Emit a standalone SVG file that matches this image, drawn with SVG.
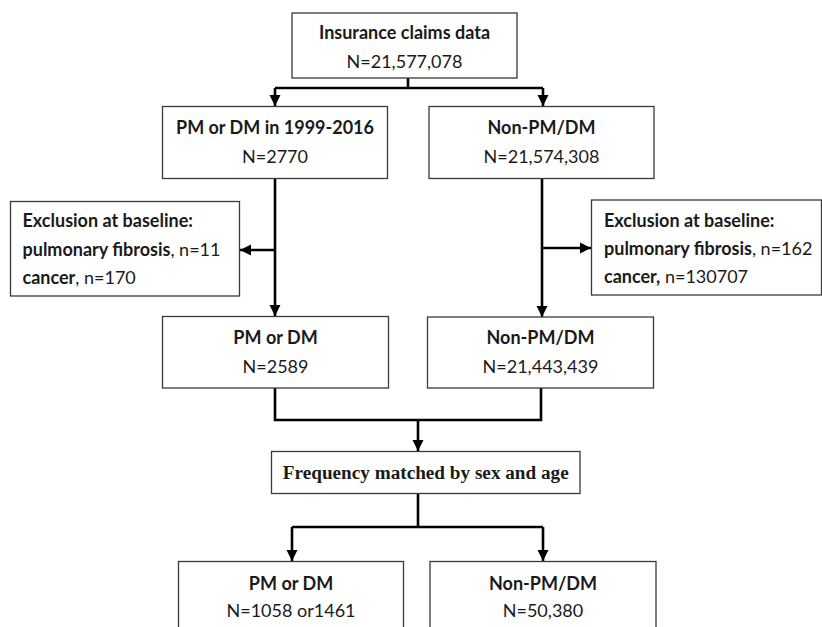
<svg xmlns="http://www.w3.org/2000/svg" width="822" height="627" viewBox="0 0 822 627">
<style>
.box{fill:#fff;stroke:#3a3a3a;stroke-width:1.3}
.t{font-family:Lato,"Liberation Sans",sans-serif;font-size:18px;fill:#1a1a1a;text-anchor:middle}
.b{font-weight:bold}
.l{text-anchor:start}
.serif{font-family:"Liberation Serif","Times New Roman",serif;font-weight:bold;font-size:19.2px}
.c{fill:none;stroke:#000;stroke-width:2.6}
</style>
<defs>
<marker id="ah" viewBox="0 0 10 10" refX="10" refY="5" markerWidth="4.4" markerHeight="4.4" markerUnits="strokeWidth" orient="auto">
<path d="M0,0 L10,5 L0,10 z" fill="#000"/>
</marker>
</defs>
<rect width="822" height="627" fill="#fff"/>
<g id="connectors">
<polyline class="c" points="408,78 408,88"/>
<polyline class="c" points="275,88 543,88"/>
<polyline class="c" points="275,88 275,106" marker-end="url(#ah)"/>
<polyline class="c" points="543,88 543,106" marker-end="url(#ah)"/>
<polyline class="c" points="275,178 275,316" marker-end="url(#ah)"/>
<polyline class="c" points="275,250 240,250" marker-end="url(#ah)"/>
<polyline class="c" points="542,178 542,317" marker-end="url(#ah)"/>
<polyline class="c" points="542,248 591,248" marker-end="url(#ah)"/>
<polyline class="c" points="275,388 275,420 541,420 541,388"/>
<polyline class="c" points="418,420 418,451" marker-end="url(#ah)"/>
<polyline class="c" points="418,493 418,527"/>
<polyline class="c" points="292,527 543,527"/>
<polyline class="c" points="292,527 292,561" marker-end="url(#ah)"/>
<polyline class="c" points="543,527 543,561" marker-end="url(#ah)"/>
</g>
<g id="n-claims">
<rect class="box" x="292" y="13" width="225" height="65"/>
<text class="t b" x="404.5" y="39">Insurance claims data</text>
<text class="t" x="404.5" y="68">N=21,577,078</text>
</g>
<g id="n-pmdm1">
<rect class="box" x="162.5" y="106.5" width="225" height="72"/>
<text class="t b" x="275" y="134">PM or DM in 1999-2016</text>
<text class="t" x="275" y="163">N=2770</text>
</g>
<g id="n-non1">
<rect class="box" x="429" y="106.5" width="225" height="72"/>
<text class="t b" x="541.5" y="134">Non-PM/DM</text>
<text class="t" x="541.5" y="163">N=21,574,308</text>
</g>
<g id="n-excl-left">
<rect class="box" x="10.5" y="201.5" width="229" height="94.5"/>
<text class="t l" x="22.5" y="227"><tspan class="b">Exclusion at baseline:</tspan></text>
<text class="t l" x="22.5" y="256"><tspan class="b">pulmonary fibrosis</tspan>, n=11</text>
<text class="t l" x="22.5" y="284"><tspan class="b">cancer</tspan>, n=170</text>
</g>
<g id="n-excl-right">
<rect class="box" x="591.5" y="200" width="230" height="95"/>
<text class="t l" x="604" y="226.5"><tspan class="b">Exclusion at baseline:</tspan></text>
<text class="t l" x="604" y="255"><tspan class="b">pulmonary fibrosis</tspan>, n=162</text>
<text class="t l" x="604" y="283"><tspan class="b">cancer,</tspan> n=130707</text>
</g>
<g id="n-pmdm2">
<rect class="box" x="162.5" y="316.5" width="226" height="71.5"/>
<text class="t b" x="275.5" y="344">PM or DM</text>
<text class="t" x="275.5" y="372.5">N=2589</text>
</g>
<g id="n-non2">
<rect class="box" x="427.5" y="317" width="226" height="71"/>
<text class="t b" x="540.5" y="344">Non-PM/DM</text>
<text class="t" x="540.5" y="372.5">N=21,443,439</text>
</g>
<g id="n-freq">
<rect class="box" x="271.5" y="451.5" width="308.5" height="42"/>
<text class="t serif" x="425.8" y="479">Frequency matched by sex and age</text>
</g>
<g id="n-pmdm3">
<rect class="box" x="178.5" y="561.5" width="225" height="80"/>
<text class="t b" x="291" y="590">PM or DM</text>
<text class="t" x="291" y="616.5">N=1058 or1461</text>
</g>
<g id="n-non3">
<rect class="box" x="430" y="561.5" width="226" height="80"/>
<text class="t b" x="543" y="590">Non-PM/DM</text>
<text class="t" x="543" y="616.5">N=50,380</text>
</g>
</svg>
